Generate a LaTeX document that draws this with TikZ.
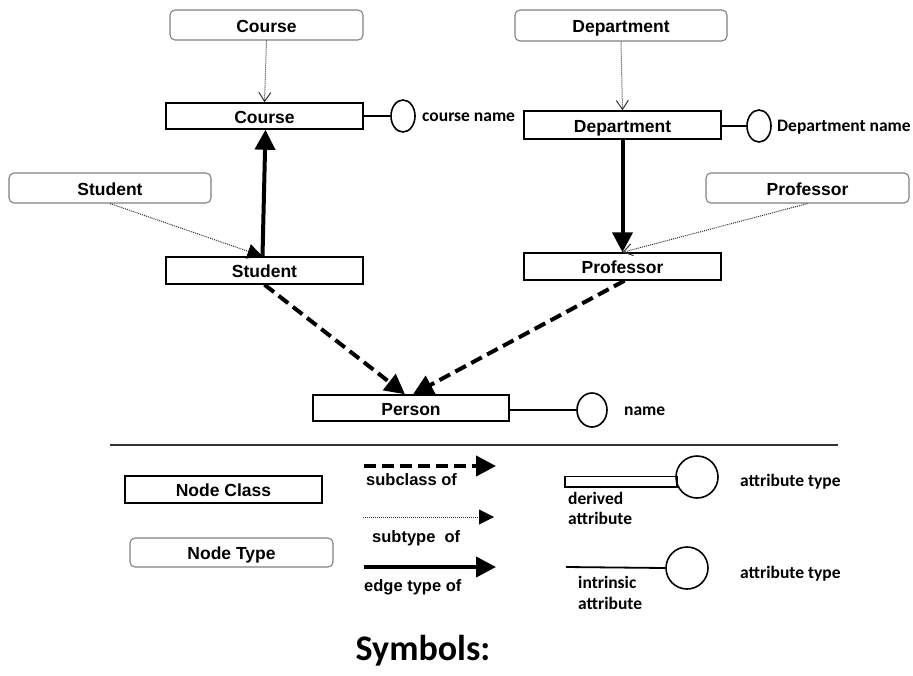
\documentclass[tikz,border=0pt]{standalone}
\usepackage{fontspec}
\setmainfont{Liberation Sans}
\newfontfamily\attrfont{Carlito}
\usetikzlibrary{arrows.meta,shapes.geometric}

\tikzset{
  classbox/.style={draw=black, line width=1.4pt, rectangle, inner sep=0pt,
    minimum width=197pt, minimum height=27pt, text height=14pt, text depth=0pt,
    font=\fontsize{17.5}{19}\selectfont\bfseries},
  typebox/.style={draw=black!50, line width=1.1pt, rectangle, rounded corners=5pt,
    inner sep=0pt, minimum width=200pt, minimum height=30pt,
    text height=14pt, text depth=0pt,
    font=\fontsize{17.5}{19}\selectfont\bfseries},
  attr/.style={draw=black, line width=1.6pt, ellipse, inner sep=0pt,
    minimum width=24pt, minimum height=32pt},
  attrround/.style={draw=black, line width=1.6pt, circle, inner sep=0pt,
    minimum size=42pt},
  attrlabel/.style={anchor=west, inner sep=0pt, text height=12pt, text depth=4pt,
    font=\attrfont\fontsize{17.5}{19}\selectfont\bfseries},
  legendlabel/.style={anchor=west, inner sep=0pt, text height=12pt, text depth=4pt,
    font=\fontsize{16.5}{18}\selectfont\bfseries},
  attrlink/.style={line width=1.8pt},
  subclassarrow/.style={line width=4pt, dash pattern=on 12pt off 6pt,
    -{Triangle[length=20pt,width=20pt]}},
  edgearrow/.style={line width=4pt, -{Triangle[length=20pt,width=20pt]}},
  subtypearrow/.style={line width=1pt, black!80, dash pattern=on 1pt off 1pt,
    -{Triangle[length=15pt,width=15pt,color=black]}},
  subtypeopen/.style={line width=1pt, black!80, dash pattern=on 1pt off 1pt,
    -{Straight Barb[length=9pt,width=12pt,line width=1pt]}},
}

\begin{document}
\begin{tikzpicture}[x=1pt,y=-1pt]
  \useasboundingbox (0,0) rectangle (913,675);

  % node types
  \node[typebox, minimum width=193pt] (tCourse) at (266.5,25) {Course};
  \node[typebox, minimum width=212pt, minimum height=31pt] (tDept) at (621,25.5) {Department};
  \node[typebox, minimum width=202pt] (tStudent) at (110,188) {Student};
  \node[typebox, minimum width=203pt] (tProf) at (807.5,188) {Professor};

  % node classes
  \node[classbox, minimum height=26pt] (cCourse) at (264.5,116) {Course};
  \node[classbox, minimum height=28pt] (cDept) at (622.5,125) {Department};
  \node[classbox] (cStudent) at (264.5,270.5) {Student};
  \node[classbox] (cProf) at (622.5,266.5) {Professor};
  \node[classbox, minimum width=196pt, minimum height=26pt] (cPerson) at (411,408) {Person};

  % attributes
  \node[attr] (aCourse) at (403,116) {};
  \node[attr] (aDept) at (759,126) {};
  \node[attr, minimum width=30pt, minimum height=34pt] (aPerson) at (592,410) {};
  \draw[attrlink] (cCourse.east) -- (aCourse.west);
  \draw[attrlink] ([yshift=-1pt]cDept.east) -- (aDept.west);
  \draw[attrlink] ([yshift=-2pt]cPerson.east) -- (aPerson.west);
  \node[attrlabel] (lCourse) at (422,117) {course name};
  \node[attrlabel] (lDept) at (777,127) {Department name};
  \node[attrlabel] (lPerson) at (624,411) {name};

  % subtype links
  \draw[subtypeopen] (tCourse.south) -- (cCourse.north);
  \draw[subtypeopen] (tDept.south) -- (cDept.north);
  \draw[subtypearrow] (tStudent.south) -- ([xshift=-2pt]cStudent.north);
  \draw[subtypeopen] (tProf.south) -- (cProf.north);

  % edge types
  \draw[edgearrow] ([xshift=-2pt]cStudent.north) -- ([xshift=1pt]cCourse.south);
  \draw[edgearrow] (cDept.south) -- (cProf.north);

  % subclass links
  \draw[subclassarrow] (cStudent.south) -- ([xshift=-6pt]cPerson.north);
  \draw[subclassarrow] ([xshift=2pt]cProf.south) -- ([xshift=2pt]cPerson.north);

  % separator
  \coordinate (sepL) at (110,445);
  \coordinate (sepR) at (838,445);
  \draw[line width=1.5pt, black!80] (sepL) -- (sepR);

  % legend: node kinds
  \node[classbox] (kClass) at (223.5,489.5) {Node Class};
  \node[typebox, minimum width=203pt, minimum height=29pt] (kType) at (231.5,552.5) {Node Type};

  % legend: connectors
  \coordinate (scA) at (364,466);  \coordinate (scB) at (496,466);
  \coordinate (stA) at (363,517);  \coordinate (stB) at (494,517);
  \coordinate (etA) at (364,567);  \coordinate (etB) at (496,567);
  \draw[subclassarrow] (scA) -- (scB);
  \draw[subtypearrow] (stA) -- (stB);
  \draw[edgearrow] (etA) -- (etB);
  \node[legendlabel] (kSub) at (366,481) {subclass of};
  \node[legendlabel] (kSty) at (372,538) {subtype\hspace{0.55em}of};
  \node[legendlabel] (kEdge) at (364,587) {edge type of};

  % legend: attributes
  \node[attrround] (kDerivedC) at (697,477) {};
  \draw[line width=1.8pt] (565,476.5) rectangle (677,487);
  \coordinate (kIntrA) at (566,567);
  \node[attrround] (kIntrC) at (687,568) {};
  \draw[attrlink] (kIntrA) -- (kIntrC.west);

  \node[attrlabel] (kAt1) at (740,482) {attribute type};
  \node[attrlabel] (kAt2) at (740,574) {attribute type};
  \node[attrlabel] (kDer1) at (568,500) {derived};
  \node[attrlabel] (kDer2) at (568,520) {attribute};
  \node[attrlabel] (kInt1) at (578,584) {intrinsic};
  \node[attrlabel] (kInt2) at (578,605) {attribute};

  \node[font=\attrfont\fontsize{36}{40}\selectfont\bfseries, inner sep=0pt] (title) at (423,651) {Symbols:};
\end{tikzpicture}
\end{document}
